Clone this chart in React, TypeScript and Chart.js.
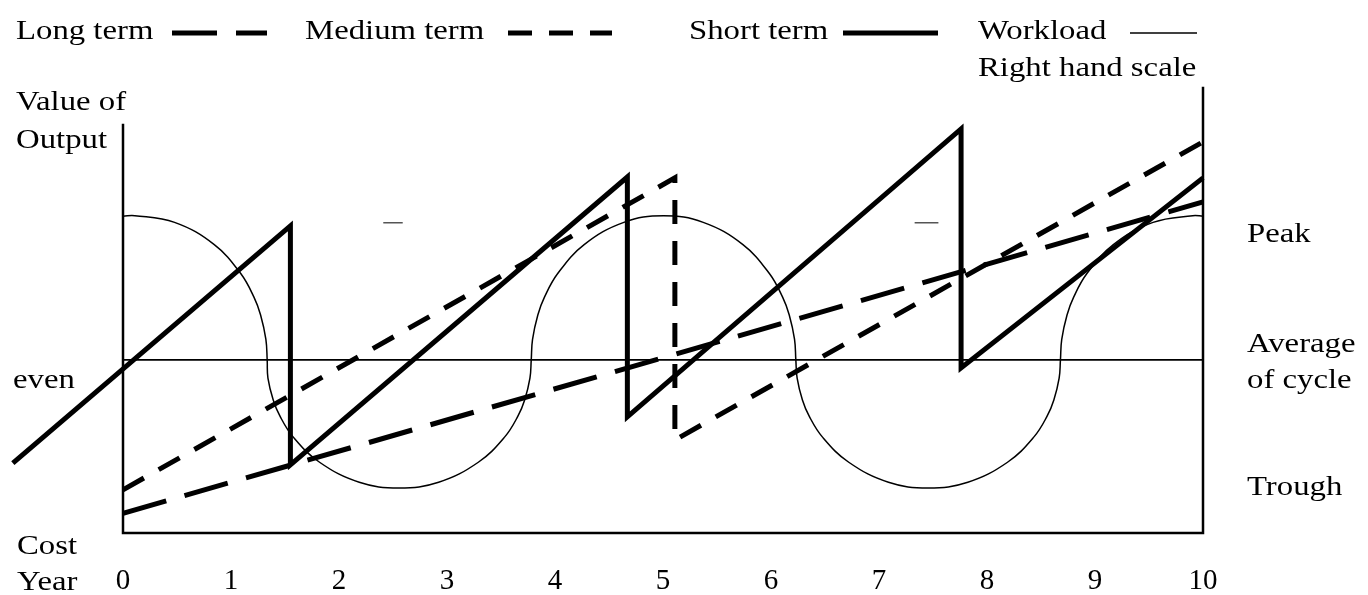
import React, { useEffect, useRef } from "react";
import { Chart, registerables } from "chart.js";

Chart.register(...registerables);

// ---- data (years on x, arbitrary value units 0..100 on y) ----
const YEAR_TICKS = [0, 1, 2, 3, 4, 5, 6, 7, 8, 9, 10];

const SHORT_X = [-1.02, 1.55, 1.55, 4.67, 4.67, 7.76, 7.76, 10];
const SHORT_Y = [15.7, 69.0, 15.3, 80.0, 26.1, 90.8, 37.1, 79.8];

const MEDIUM_X = [0, 5.11, 5.11, 10];
const MEDIUM_Y = [9.7, 79.8, 20.9, 87.9];

const LONG_X = [0, 10];
const LONG_Y = [4.4, 74.4];

const AVERAGE_X = [0, 10];
const AVERAGE_Y = [38.9, 38.9];

const WORKLOAD_X = [
  0, 0.11, 0.4775, 0.845, 1.09, 1.2125, 1.274, 1.323, 1.335,
  1.342, 1.391, 1.4525, 1.575, 1.82, 2.1875, 2.555, 2.9225, 3.29, 3.535, 3.6575, 3.719, 3.768, 3.78,
  3.792, 3.841, 3.9025, 4.025, 4.27, 4.6375, 5.005, 5.3725, 5.74, 5.985, 6.1075, 6.169, 6.218, 6.23,
  6.242, 6.291, 6.3525, 6.475, 6.72, 7.0875, 7.455, 7.8225, 8.19, 8.435, 8.5575, 8.619, 8.668, 8.68,
  8.692, 8.741, 8.8025, 8.925, 9.17, 9.5375, 9.905, 10,
];
const WORKLOAD_Y = [
  71.2, 71.3, 69.8, 64.8, 58.3, 53.0, 49.0, 43.5, 38.9,
  34.8, 29.9, 26.3, 21.6, 15.9, 11.4, 10.1, 11.4, 15.9, 21.6, 26.3, 29.9, 34.8, 38.9,
  43.5, 49.0, 53.0, 58.3, 64.8, 69.8, 71.3, 69.8, 64.8, 58.3, 53.0, 49.0, 43.5, 38.9,
  34.8, 29.9, 26.3, 21.6, 15.9, 11.4, 10.1, 11.4, 15.9, 21.6, 26.3, 29.9, 34.8, 38.9,
  43.5, 49.0, 53.0, 58.3, 64.8, 69.8, 71.3, 71.2,
];

// small stray marks visible in the original
const MARK_X = [2.41, 2.59, 2.7, 7.33, 7.55];
const MARK_Y = [69.7, 69.7, null, 69.7, 69.7];

const LEFT_AXIS_TOP = 91.7;
const RIGHT_AXIS_TOP = 100;

const LEGEND_LABELS = ["Long term", "Medium term", "Short term", "Workload"];

const FONT = '"Liberation Serif", "Times New Roman", serif';
const STRETCH = 1.17;

function pts(xs: number[], ys: (number | null)[]) {
  return xs.map((x, i) => ({ x, y: ys[i] }));
}

export default function App() {
  const ref = useRef<HTMLCanvasElement>(null);

  useEffect(() => {
    const canvas = ref.current;
    if (!canvas) return;

    const drawText = (ctx: CanvasRenderingContext2D, t: string, x: number, y: number) => {
      ctx.save();
      ctx.translate(x, y);
      ctx.scale(STRETCH, 1);
      ctx.fillText(t, 0, 0);
      ctx.restore();
    };

    const annot = {
      id: "annot",
      beforeDatasetsDraw(chart: any) {
        const ctx: CanvasRenderingContext2D = chart.ctx;
        const xs = chart.scales.x;
        const ys = chart.scales.y;
        const x0 = xs.getPixelForValue(0);
        const x1 = xs.getPixelForValue(10);
        const yb = ys.getPixelForValue(0);
        ctx.save();
        ctx.strokeStyle = "#000";
        ctx.lineWidth = 2.5;
        ctx.lineCap = "square";
        ctx.beginPath();
        ctx.moveTo(x0, ys.getPixelForValue(LEFT_AXIS_TOP));
        ctx.lineTo(x0, yb);
        ctx.lineTo(x1, yb);
        ctx.moveTo(x1, ys.getPixelForValue(RIGHT_AXIS_TOP));
        ctx.lineTo(x1, yb);
        ctx.stroke();
        ctx.restore();
      },
      afterDraw(chart: any) {
        const ctx: CanvasRenderingContext2D = chart.ctx;
        ctx.save();
        ctx.fillStyle = "#000";
        ctx.font = `28px ${FONT}`;
        ctx.textBaseline = "alphabetic";
        ctx.textAlign = "left";

        // legend
        const legendX = [16, 305, 689, 978];
        const sampleX = [
          [172, 267],
          [508, 612],
          [843, 938],
          [1130, 1197],
        ];
        const dsIdx = [2, 1, 0, 3];
        LEGEND_LABELS.forEach((t, i) => {
          drawText(ctx, t, legendX[i], 39);
          const ds = chart.data.datasets[dsIdx[i]];
          ctx.save();
          ctx.strokeStyle = "#000";
          ctx.lineWidth = ds.borderWidth;
          ctx.setLineDash(ds.borderDash || []);
          ctx.lineCap = "butt";
          ctx.beginPath();
          ctx.moveTo(sampleX[i][0], 33);
          ctx.lineTo(sampleX[i][1], 33);
          ctx.stroke();
          ctx.restore();
        });
        drawText(ctx, "Right hand scale", 978, 76);

        // left labels
        drawText(ctx, "Value of", 16, 110);
        drawText(ctx, "Output", 16, 148);
        drawText(ctx, "even", 13, 388);
        drawText(ctx, "Cost", 17, 554);
        drawText(ctx, "Year", 17, 590);

        // right labels
        drawText(ctx, "Peak", 1247, 242);
        drawText(ctx, "Average", 1247, 352);
        drawText(ctx, "of cycle", 1247, 388);
        drawText(ctx, "Trough", 1247, 495);
        ctx.restore();
      },
    };

    const base = {
      borderColor: "#000",
      pointRadius: 0,
      pointHoverRadius: 0,
      fill: false,
      tension: 0,
      borderJoinStyle: "miter" as const,
      borderCapStyle: "butt" as const,
    };

    const chart = new Chart(canvas, {
      type: "line",
      data: {
        datasets: [
          { ...base, label: "Short term", data: pts(SHORT_X, SHORT_Y), borderWidth: 5, clip: false as any },
          { ...base, label: "Medium term", data: pts(MEDIUM_X, MEDIUM_Y), borderWidth: 5, borderDash: [24, 17] },
          { ...base, label: "Long term", data: pts(LONG_X, LONG_Y), borderWidth: 5, borderDash: [45, 19] },
          {
            ...base,
            label: "Workload",
            data: pts(WORKLOAD_X, WORKLOAD_Y),
            borderWidth: 1.5,
            tension: 0.4,
            borderJoinStyle: "round" as const,
          },
          { ...base, label: "Average of cycle", data: pts(AVERAGE_X, AVERAGE_Y), borderWidth: 1.8 },
          { ...base, label: "marks", data: pts(MARK_X, MARK_Y) as any, borderWidth: 1.5, borderColor: "#555", spanGaps: false },
        ] as any,
      },
      options: {
        animation: false,
        responsive: false,
        devicePixelRatio: 1,
        events: [],
        layout: { padding: { left: 123, right: 165, top: 88, bottom: 0 } },
        plugins: {
          legend: { display: false },
          tooltip: { enabled: false },
          title: { display: false },
        },
        scales: {
          x: {
            type: "linear",
            min: 0,
            max: 10,
            afterFit: (s: any) => {
              s.height = 62;
            },
            afterBuildTicks: (s: any) => {
              s.ticks = YEAR_TICKS.map((v) => ({ value: v }));
            },
            grid: { display: false, drawTicks: false },
            border: { display: false },
            ticks: {
              autoSkip: false,
              maxRotation: 0,
              padding: 31,
              color: "#000",
              font: { family: FONT, size: 29, lineHeight: 1.2 },
              callback: (v: any) => String(v),
            },
          },
          y: {
            type: "linear",
            min: 0,
            max: 100,
            display: false,
          },
        },
      } as any,
      plugins: [annot],
    });

    return () => chart.destroy();
  }, []);

  return (
    <div style={{ position: "fixed", left: 0, top: 0, width: 1368, height: 595, background: "#fff" }}>
      <canvas ref={ref} width={1368} height={595} style={{ display: "block", width: 1368, height: 595 }} />
    </div>
  );
}
